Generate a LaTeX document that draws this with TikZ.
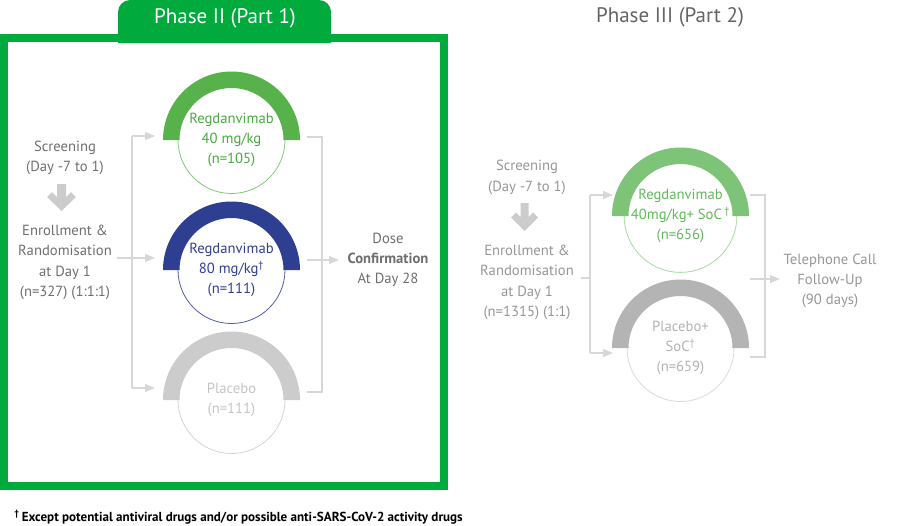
\documentclass[tikz,border=0pt]{standalone}
\usepackage{fontspec}
\setmainfont{PT Sans}
\usetikzlibrary{arrows.meta,calc}

\definecolor{frameG}{RGB}{0,170,60}
\definecolor{armA}{RGB}{88,178,75}
\definecolor{armAtxt}{RGB}{72,170,62}
\definecolor{armAline}{RGB}{130,200,120}
\definecolor{armB}{RGB}{46,62,145}
\definecolor{armBline}{RGB}{80,90,170}
\definecolor{armC}{RGB}{204,204,204}
\definecolor{armCtxt}{RGB}{196,196,196}
\definecolor{armCline}{RGB}{212,212,212}
\definecolor{armD}{RGB}{125,196,120}
\definecolor{armDtxt}{RGB}{98,184,92}
\definecolor{armDline}{RGB}{165,218,160}
\definecolor{armE}{RGB}{180,180,180}
\definecolor{armEtxt}{RGB}{178,178,178}
\definecolor{armEline}{RGB}{218,218,218}
\definecolor{sideA}{RGB}{110,110,110}
\definecolor{sideB}{RGB}{150,150,150}
\definecolor{titleB}{RGB}{100,100,100}
\definecolor{conn}{RGB}{215,215,215}
\definecolor{blockarrow}{RGB}{204,204,204}

% upper half ring drawn over an arm circle
\newcommand\halfring[2]{%
  \fill[#2] ($(#1)+(68.5,0)$) arc[start angle=0,end angle=-180,radius=68.5]
    -- ($(#1)+(-52,0)$) arc[start angle=-180,end angle=0,radius=52] -- cycle;}

\begin{document}
\begin{tikzpicture}[x=0.75pt,y=-0.75pt,
  body/.style={font=\fontsize{11}{15.2}\selectfont, align=center, inner sep=0pt},
  arm/.style={circle, draw, line width=0.6pt, minimum size=80.25pt, inner sep=0pt,
    font=\fontsize{11}{15.2}\selectfont, align=center},
  link/.style={draw=conn, line width=0.8pt},
  linkarrow/.style={link, -{Triangle[length=7.5pt,width=6pt]}, conn},
  blk/.style={fill=blockarrow},
  heading/.style={font=\fontsize{15.75}{18}\selectfont, inner sep=0pt}]
\useasboundingbox (0,0) rectangle (902,525);

% ---------- Phase II (Part 1) ----------
\fill[frameG] (118,43) [rounded corners=9pt] -- (118,0) -- (331,0) [sharp corners] -- (331,43) -- cycle;
\node[heading, text=white] (p2title) at (225,18) {Phase II (Part 1)};
\draw[frameG, line width=6pt] (4,37.5) rectangle (444,486);

\node[body, text=sideA] (scr2) at (65,158) {Screening\\(Day -7 to 1)};
\fill[blk] (57,184) -- (66,184) -- (66,197) -- (71,192) -- (76,197) -- (61.5,211)
  -- (47,197) -- (52,192) -- (57,197) -- cycle;
\node[body, text=sideA] (enr2) at (65,262.5) {Enrollment \&\\Randomisation\\at Day 1\\(n=327) (1:1:1)};

\node[arm, draw=armAline, text=armAtxt] (a1) at (231.5,140) {Regdanvimab\\40 mg/kg\\(n=105)};
\node[arm, draw=armBline, text=armB] (a2) at (231.5,270) {Regdanvimab\\80 mg/kg\textsuperscript{†}\\(n=111)};
\node[arm, draw=armCline, text=armCtxt] (a3) at (231.5,400) {Placebo\\(n=111)};
\halfring{a1}{armA}
\halfring{a2}{armB}
\halfring{a3}{armC}

\node[body, text=sideA] (dose) at (388,260) {Dose\\\textbf{Confirmation}\\At Day 28};

% randomisation split
\coordinate (s2a) at (117,258);
\coordinate (s2top) at (132,136);
\coordinate (s2bot) at (132,388);
\draw[link] (s2top) -- (s2bot);
\draw[linkarrow] (s2a) -- (155,258);
\draw[linkarrow] (s2top) -- (155,136);
\draw[linkarrow] (s2bot) -- (155,388);

% merge into dose confirmation
\coordinate (m2out) at (307,260);
\coordinate (m2in) at (339,260);
\draw[link] (307,137) -- (322,137) -- (322,392) -- (307,392);
\draw[linkarrow] (m2out) -- (m2in);

% ---------- Phase III (Part 2) ----------
\node[heading, text=titleB] (p3title) at (670,17) {Phase III (Part 2)};

\node[body, text=sideB] (scr3) at (527,177.5) {Screening\\(Day -7 to 1)};
\fill[blk] (520.5,203) -- (528.5,203) -- (528.5,217) -- (533,212.5) -- (538,217.5)
  -- (524.5,231) -- (511,217.5) -- (516,212.5) -- (520.5,217) -- cycle;
\node[body, text=sideB] (enr3) at (527,282.5) {Enrollment \&\\Randomisation\\at Day 1\\(n=1315) (1:1)};

\node[arm, draw=armDline, text=armDtxt] (b1) at (680.5,216) {Regdanvimab\\40mg/kg+ SoC\,\textsuperscript{†}\\(n=656)};
\node[arm, draw=armEline, text=armEtxt] (b2) at (680.5,348) {Placebo+\\SoC\textsuperscript{†}\\(n=659)};
\halfring{b1}{armD}
\halfring{b2}{armE}

\node[body, text=sideB] (tel) at (830,281) {Telephone Call\\Follow-Up\\(90 days)};

% randomisation split
\coordinate (s3a) at (581,278);
\coordinate (s3mid) at (590,278);
\coordinate (s3top) at (590,195);
\coordinate (s3bot) at (590,353);
\draw[link] (s3a) -- (s3mid);
\draw[link] (s3top) -- (s3bot);
\draw[linkarrow] (s3top) -- (613,195);
\draw[linkarrow] (s3bot) -- (613,353);

% merge into follow-up
\coordinate (m3out) at (750,279);
\coordinate (m3in) at (780,279);
\draw[link] (750,195) -- (765,195) -- (765,357) -- (750,357);
\draw[linkarrow] (m3out) -- (m3in);

% ---------- footnote ----------
\node[anchor=west, inner sep=0pt, font=\fontsize{9.8}{12}\selectfont\bfseries] (note) at (14,517)
  {\textsuperscript{†}\,Except potential antiviral drugs and/or possible anti-SARS-CoV-2 activity drugs};
\end{tikzpicture}
\end{document}
